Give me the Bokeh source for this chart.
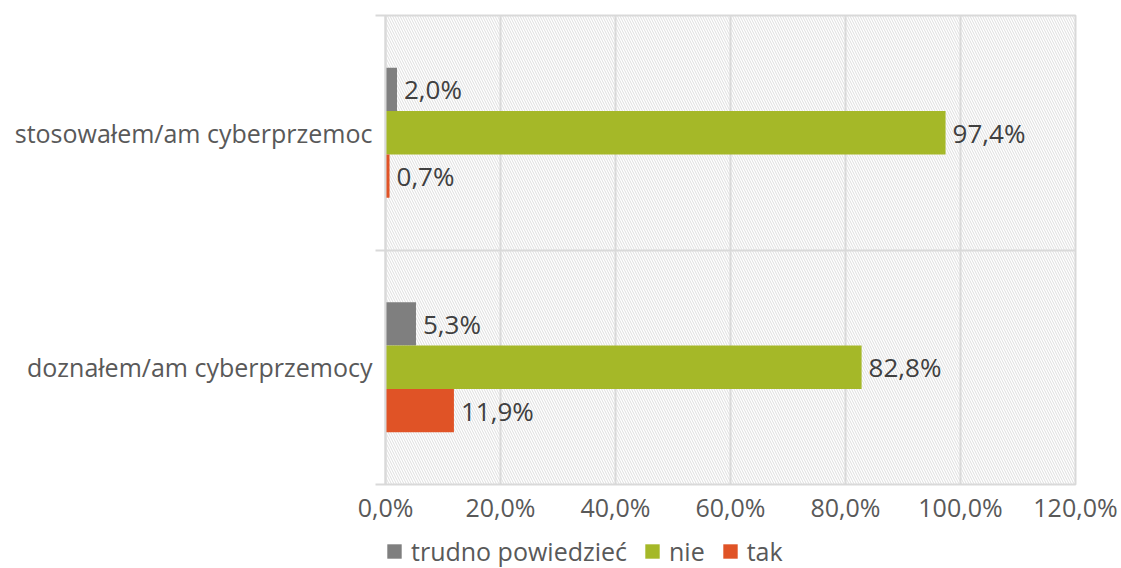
from bokeh.plotting import figure
from bokeh.layouts import column
from bokeh.models import Range1d, FixedTicker, Legend, LegendItem, ColumnDataSource
from bokeh.core.properties import value
from bokeh.embed import file_html
from bokeh.resources import INLINE

# ---- data ----
categories = ["doznałem/am cyberprzemocy", "stosowałem/am cyberprzemoc"]  # bottom -> top
series_names = ["trudno powiedzieć", "nie", "tak"]
trudno = [5.3, 2.0]
nie = [82.8, 97.4]
tak = [11.9, 0.7]
x_ticks = [0, 20, 40, 60, 80, 100, 120]
x_tick_labels = ["0,0%", "20,0%", "40,0%", "60,0%", "80,0%", "100,0%", "120,0%"]

colors = ["#7f7f7f", "#a5b828", "#e05326"]
FONT = "Open Sans"

W = 1121
H_MAIN = 534
H_LEG = 568 - H_MAIN

p = figure(width=W, height=H_MAIN, x_range=Range1d(0, 120), y_range=Range1d(0, 2),
           output_backend="svg", toolbar_location=None,
           min_border_left=385, min_border_right=46, min_border_top=15,
           min_border_bottom=H_MAIN - 484)
p.outline_line_color = "#d9d9d9"
p.outline_line_width = 2
p.background_fill_color = "white"
p.border_fill_color = "white"

# hatched plot background
p.quad(left=[0], right=[120], bottom=[0], top=[2], fill_alpha=0, line_alpha=0,
       hatch_pattern="\\", hatch_color="#d9d9d9", hatch_scale=5, hatch_weight=0.9)

# grids
p.xgrid.ticker = FixedTicker(ticks=x_ticks)
p.ygrid.ticker = FixedTicker(ticks=list(range(len(categories) + 1)))
for g in (p.xgrid, p.ygrid):
    g.grid_line_color = "#d9d9d9"
    g.grid_line_width = 2

bar_h = 0.185
centers = [i + 0.5 for i in range(len(categories))]
offsets = [bar_h, 0.0, -bar_h]
series = [trudno, nie, tak]

for vals, off, col in zip(series, offsets, colors):
    ys = [c + off for c in centers]
    src = ColumnDataSource(dict(y=ys, x=vals,
                                lab=[f"{v:.1f}".replace(".", ",") + "%" for v in vals]))
    p.hbar(y="y", right="x", left=0, height=bar_h, source=src,
           fill_color=col, line_color=None)
    p.text(x="x", y="y", text="lab", source=src, x_offset=7,
           text_align="left", text_baseline="middle",
           text_font=value(FONT), text_font_size="26px", text_color="#404040")

# x axis
xa = p.xaxis[0]
xa.ticker = FixedTicker(ticks=x_ticks)
xa.major_label_overrides = {t: l for t, l in zip(x_ticks, x_tick_labels)}
xa.axis_line_color = None
xa.major_tick_line_color = None
xa.minor_tick_line_color = None
xa.major_tick_out = 0
xa.major_tick_in = 0
xa.major_label_standoff = 5
xa.major_label_text_font = FONT
xa.major_label_text_font_size = "25px"
xa.major_label_text_color = "#595959"

# y axis
ya = p.yaxis[0]
ya.ticker = FixedTicker(ticks=centers, minor_ticks=list(range(len(categories) + 1)))
ya.major_label_overrides = {c: n for c, n in zip(centers, categories)}
ya.axis_line_color = "#d9d9d9"
ya.axis_line_width = 2
ya.major_tick_line_color = None
ya.major_tick_out = 0
ya.major_tick_in = 0
ya.minor_tick_in = 0
ya.minor_tick_out = 10
ya.minor_tick_line_color = "#d9d9d9"
ya.minor_tick_line_width = 2
ya.major_label_standoff = 3
ya.major_label_text_font = FONT
ya.major_label_text_font_size = "25px"
ya.major_label_text_color = "#595959"

# legend strip below the chart
lg = figure(width=W, height=H_LEG, x_range=Range1d(200, 300), y_range=Range1d(0, 1),
            output_backend="svg", toolbar_location=None,
            x_axis_type=None, y_axis_type=None,
            min_border_left=0, min_border_right=0, min_border_top=0, min_border_bottom=0)
lg.outline_line_color = None
lg.xgrid.visible = False
lg.ygrid.visible = False
lg.background_fill_color = "white"
lg.border_fill_color = "white"
leg_renderers = [lg.hbar(y=centers, right=vals, left=0, height=bar_h,
                         fill_color=c, line_color=None, visible=False)
                 for vals, c in zip(series, colors)]
legend = Legend(items=[LegendItem(label=n, renderers=[r]) for n, r in zip(series_names, leg_renderers)],
                orientation="horizontal", location="left",
                padding=0, margin=0, spacing=16, label_standoff=8,
                glyph_width=18, glyph_height=18,
                border_line_color=None, background_fill_alpha=0,
                label_text_font=FONT, label_text_font_size="25px", label_text_color="#595959")
lg.add_layout(legend)

layout = column(p, lg, spacing=0)
open("out.html", "w").write(file_html(layout, INLINE))
